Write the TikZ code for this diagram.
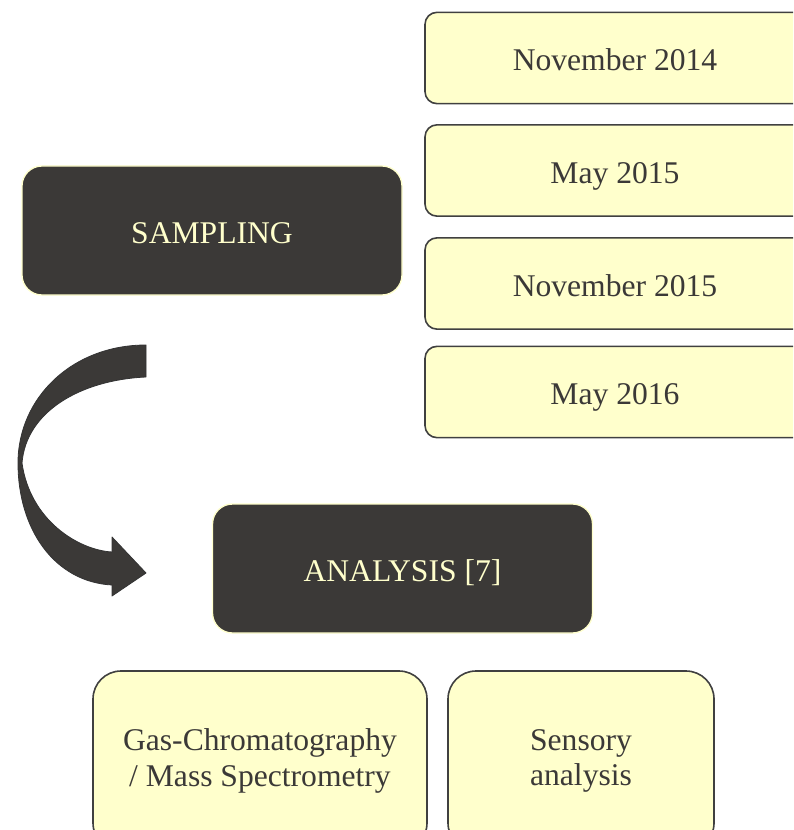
\documentclass[tikz,border=0pt]{standalone}
\usepackage{fontspec}
\setmainfont{Liberation Serif}
\usetikzlibrary{
  calc,
  positioning
}
\definecolor{darkbox}{HTML}{3B3937}
\definecolor{paleyellow}{HTML}{FFFFCC}
\definecolor{boxline}{HTML}{404040}

\begin{document}
\begin{tikzpicture}[x=0.75pt,y=-0.75pt,
  stage/.style={draw=paleyellow,line width=1pt,fill=darkbox,text=paleyellow,
    rounded corners=15pt,minimum width=285pt,minimum height=96.75pt,
    text height=21pt,text depth=2pt,
    font=\fontsize{23.7}{28}\selectfont},
  date/.style={draw=boxline,line width=1.2pt,fill=paleyellow,text=darkbox,
    rounded corners=9pt,minimum width=285pt,minimum height=68.5pt,
    text height=21pt,text depth=2pt,
    font=\fontsize{23.7}{28}\selectfont},
  method/.style={draw=boxline,line width=1.2pt,fill=paleyellow,text=darkbox,
    rounded corners=21pt,minimum height=135pt,align=center,
    font=\fontsize{23.7}{26.5}\selectfont}]
  \useasboundingbox (0,0) rectangle (793,830);
  \clip (0,0) rectangle (793,830);
  \node[stage] (sampling) at (212,230.5) {SAMPLING};
  \node[date] (nov14) at (615,58) {November 2014};
  \node[date] (may15) at (615,170.5) {May 2015};
  \node[date] (nov15) at (615,283.5) {November 2015};
  \node[date] (may16) at (615,392) {May 2016};
  \node[stage] (analysis) at (402.5,568.5) {ANALYSIS [7]};
  \node[method,minimum width=250.5pt] (gcms) at (260,761)
    {Gas-Chromatography\\/ Mass Spectrometry};
  \node[method,minimum width=199.5pt] (sensory) at (581,761)
    {Sensory\\analysis};
  % curved block arrow
  \filldraw[fill=darkbox,draw=black!80,line width=0.6pt,line join=round]
    (146,345) -- (146,377)
    .. controls (80,380) and (26,412) .. (22,463)
    .. controls (30,520) and (78,550) .. (112,552)
    -- (112,537) -- (146,573) -- (112,596) -- (112,585)
    .. controls (55,582) and (18,530) .. (18,463)
    .. controls (18,398) and (72,345) .. (146,345) -- cycle;
\end{tikzpicture}
\end{document}
